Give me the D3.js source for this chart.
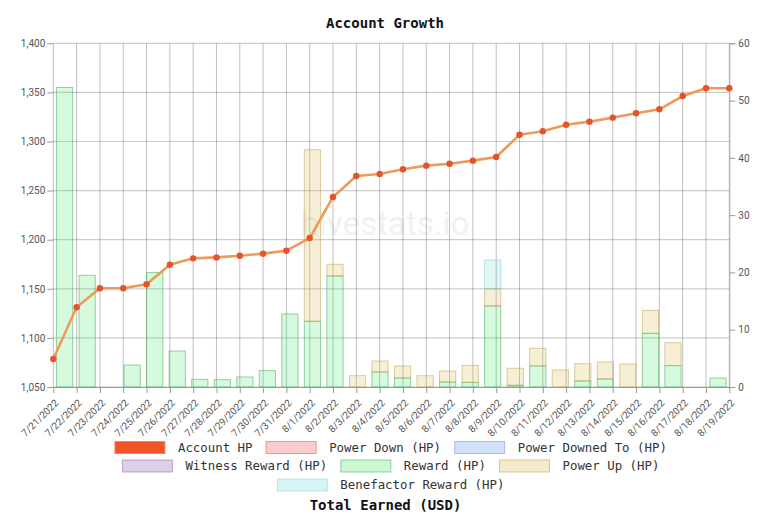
<!DOCTYPE html>
<html>
<head>
<meta charset="utf-8">
<script src="https://cdn.jsdelivr.net/npm/d3@7"></script>
<style>
  html, body { margin: 0; padding: 0; background: #fff; }
  svg { display: block; }
</style>
</head>
<body>
<svg id="chart" width="770" height="521"></svg>
<script>
const dates = ["7/21/2022","7/22/2022","7/23/2022","7/24/2022","7/25/2022","7/26/2022","7/27/2022","7/28/2022","7/29/2022","7/30/2022",
  "7/31/2022","8/1/2022","8/2/2022","8/3/2022","8/4/2022","8/5/2022","8/6/2022","8/7/2022","8/8/2022","8/9/2022",
  "8/10/2022","8/11/2022","8/12/2022","8/13/2022","8/14/2022","8/15/2022","8/16/2022","8/17/2022","8/18/2022","8/19/2022"];

const accountHP = [1078.5,1131.2,1150.5,1150.5,1154.6,1174.6,1181.0,1182.0,1183.7,1185.8,
  1188.8,1201.7,1243.5,1264.9,1266.9,1271.7,1275.4,1277.4,1280.5,1284.2,
  1306.8,1310.4,1317.1,1320.2,1324.3,1328.7,1332.8,1346.3,1354.2,1354.2];

const powerDown = new Array(30).fill(0);
const powerDownedTo = new Array(30).fill(0);
const witnessReward = new Array(30).fill(0);
const reward = [52.3,19.5,0,3.84,20.0,6.29,1.34,1.28,1.75,2.85,
  12.75,11.47,19.38,0,2.62,1.57,0,0.87,0.81,14.14,
  0.3,3.67,0,1.05,1.4,0,9.37,3.73,0,1.57];
const powerUp = [0,0,0,0,0,0,0,0,0,0,
  0,29.95,2.04,1.98,1.92,2.1,1.98,1.92,2.97,3.03,
  2.97,3.08,2.97,3.02,2.97,4.02,4.02,4.01,0,0];
const benefactorReward = [0,0,0,0,0,0,0,0,0,0,
  0,0,0,0,0,0,0,0,0,5.0,
  0,0,0,0,0,0,0,0,0,0];

const leftTicks = [1050,1100,1150,1200,1250,1300,1350,1400];
const rightTicks = [0,10,20,30,40,50,60];

const barSeries = [
  {name:"Power Down (HP)", values: powerDown, fill:"rgba(245,110,110,0.28)", stroke:"rgba(220,120,120,0.7)"},
  {name:"Power Downed To (HP)", values: powerDownedTo, fill:"rgba(110,160,240,0.25)", stroke:"rgba(120,160,220,0.6)"},
  {name:"Witness Reward (HP)", values: witnessReward, fill:"rgba(150,100,180,0.25)", stroke:"rgba(150,120,180,0.6)"},
  {name:"Reward (HP)", values: reward, fill:"rgba(70,230,100,0.22)", stroke:"rgba(70,170,95,0.55)"},
  {name:"Power Up (HP)", values: powerUp, fill:"rgba(220,190,90,0.25)", stroke:"rgba(190,165,90,0.55)"},
  {name:"Benefactor Reward (HP)", values: benefactorReward, fill:"rgba(100,210,210,0.2)", stroke:"rgba(130,210,210,0.5)"}
];

const svg = d3.select("#chart");
const L = 53.3, R = 729.3, T = 43.3, B = 387;

const xPoint = d3.scalePoint().domain(dates).range([L, R]).padding(0);
const xBand = d3.scaleBand().domain(dates).range([L, R]).paddingInner(0.28).paddingOuter(0.14);
const yL = d3.scaleLinear().domain([1050, 1400]).range([B, T]);
const yR = d3.scaleLinear().domain([0, 60]).range([B, T]);

// watermark
svg.append("text").attr("x", 385).attr("y", 235).attr("text-anchor", "middle")
  .style("font-family", "Roboto, 'Open Sans', sans-serif").style("font-size", "33px")
  .style("fill", "#f1f1f1").text("hivestats.io");

// grid
const grid = svg.append("g");
grid.selectAll("line.h").data(leftTicks).join("line")
  .attr("x1", L).attr("x2", R).attr("y1", d => yL(d)).attr("y2", d => yL(d))
  .attr("stroke", "rgba(0,0,0,0.2)").attr("stroke-width", 1.2);
grid.selectAll("line.v").data(dates).join("line")
  .attr("x1", d => xPoint(d)).attr("x2", d => xPoint(d)).attr("y1", T).attr("y2", B)
  .attr("stroke", "rgba(0,0,0,0.25)").attr("stroke-width", 1);

// stacked bars
const stackData = dates.map((d, i) => {
  const o = {date: d};
  barSeries.forEach(s => o[s.name] = s.values[i]);
  return o;
});
const stack = d3.stack().keys(barSeries.map(s => s.name));
const layers = stack(stackData);
const barsG = svg.append("g");
layers.forEach((layer, li) => {
  const s = barSeries[li];
  barsG.selectAll(null).data(layer.filter(p => p[1] - p[0] > 0)).join("rect")
    .attr("x", p => xBand(p.data.date))
    .attr("width", xBand.bandwidth())
    .attr("y", p => yR(p[1]))
    .attr("height", p => yR(p[0]) - yR(p[1]))
    .attr("fill", s.fill).attr("stroke", s.stroke).attr("stroke-width", 1);
});

// axes
const tickFont = "Roboto, 'Liberation Sans', sans-serif";
const axL = svg.append("g").attr("transform", `translate(${L},0)`)
  .call(d3.axisLeft(yL).tickValues(leftTicks).tickFormat(d3.format(",")).tickSize(6).tickPadding(2));
const axR = svg.append("g").attr("transform", `translate(${R},0)`)
  .call(d3.axisRight(yR).tickValues(rightTicks).tickSize(6).tickPadding(3));
const axB = svg.append("g").attr("transform", `translate(0,${B})`)
  .call(d3.axisBottom(xPoint).tickSize(6).tickSizeOuter(0));
[axL, axR, axB].forEach(a => {
  a.selectAll("path.domain").attr("stroke", "#999");
  a.selectAll(".tick line").attr("stroke", "#999");
  a.selectAll("text").style("font-family", tickFont).style("font-size", "10px").attr("fill", "#555");
});
axL.select("path.domain").remove();
axR.select("path.domain").attr("stroke", "#aaa");
axB.selectAll("text")
  .attr("text-anchor", "end")
  .attr("dy", "0.35em")
  .attr("transform", "translate(3,14) rotate(-45)")
  .attr("x", 0).attr("y", 0);

// line
const line = d3.line().x((d, i) => xPoint(dates[i])).y(d => yL(d));
svg.append("path").datum(accountHP).attr("d", line)
  .attr("fill", "none").attr("stroke", "#ee9a58").attr("stroke-width", 2.6).attr("stroke-linejoin", "round");
svg.append("g").selectAll("circle").data(accountHP).join("circle")
  .attr("cx", (d, i) => xPoint(dates[i])).attr("cy", d => yL(d)).attr("r", 3.2)
  .attr("fill", "#e5532a");

// title
svg.append("text").attr("x", 385).attr("y", 28).attr("text-anchor", "middle")
  .style("font-family", "'DejaVu Sans Mono', monospace").style("font-size", "14px").style("font-weight", "bold")
  .attr("fill", "#111").text("Account Growth");

// legend
const legendItems = [
  {name:"Account HP", fill:"#f0552a", stroke:"#f08a5a"},
  ...barSeries.map(s => ({name:s.name, fill:s.fill, stroke:s.stroke}))
];
const rows = [[0,1,2],[3,4,5],[6]];
const rowY = [447.5, 466, 485];
const cw = 7.47, boxW = 50, boxH = 12, gapBT = 13, gapItem = 13.5, center = 391;
const legG = svg.append("g");
rows.forEach((r, ri) => {
  const widths = r.map(k => boxW + gapBT + legendItems[k].name.length * cw);
  const total = d3.sum(widths) + gapItem * (r.length - 1);
  let x = center - total / 2;
  r.forEach((k, j) => {
    const it = legendItems[k];
    legG.append("rect").attr("x", x).attr("y", rowY[ri] - boxH / 2).attr("width", boxW).attr("height", boxH)
      .attr("fill", k === 0 ? it.fill : it.fill.replace(/[\d.]+\)$/, m => Math.min(1, parseFloat(m) * 1.25) + ")"))
      .attr("stroke", it.stroke).attr("stroke-width", 1);
    legG.append("text").attr("x", x + boxW + gapBT).attr("y", rowY[ri]).attr("dy", "0.35em")
      .style("font-family", "'DejaVu Sans Mono', monospace").style("font-size", "12.4px")
      .attr("fill", "#333").text(it.name);
    x += widths[j] + gapItem;
  });
});

svg.append("text").attr("x", 385.5).attr("y", 510).attr("text-anchor", "middle")
  .style("font-family", "'DejaVu Sans Mono', monospace").style("font-size", "14px").style("font-weight", "bold")
  .attr("fill", "#111").text("Total Earned (USD)");
</script>
</body>
</html>
